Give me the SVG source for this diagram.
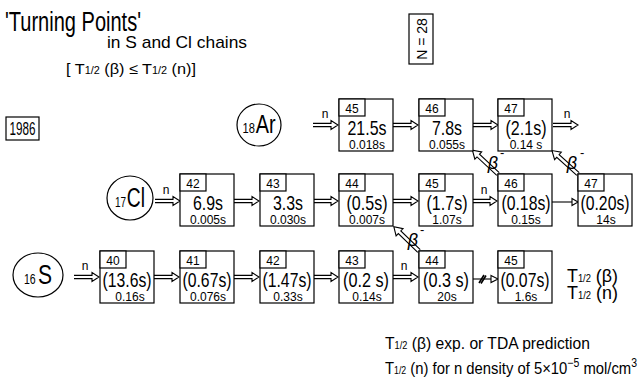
<svg xmlns="http://www.w3.org/2000/svg" width="641" height="383" viewBox="0 0 641 383">
<style>
text{font-family:"Liberation Sans",Arial,sans-serif;fill:#000}
.box{fill:#fff;stroke:#000;stroke-width:1.2}
.lb{font-size:12px;text-anchor:middle}
.v{font-size:21px;text-anchor:middle}
.s{font-size:12px;text-anchor:middle}
.ha{fill:#fff;stroke:#000;stroke-width:1.1}
.ln{fill:none;stroke:#000;stroke-width:1.1}
.n{font-size:12px;text-anchor:middle}
.b{font-size:18px;font-style:italic;text-anchor:middle}
.el{fill:#fff;stroke:#000;stroke-width:1.2}
.sub{font-size:10px}
.c{text-anchor:middle}
</style>
<defs>
<path id="ha25" class="ha" d="M0,-1.6H18V-4.5L25,0L18,4.5V1.6H0"/>
<path id="hb" class="ha" d="M0,-1.8H27V-5L35,0L27,5V1.8H0"/>
</defs>
<g id="title">
<text x="5" y="31" font-size="27" textLength="136" lengthAdjust="spacingAndGlyphs">'Turning  Points'</text>
<text x="107" y="48" font-size="17" textLength="140" lengthAdjust="spacingAndGlyphs">in S and Cl chains</text>
<text x="66" y="74" font-size="15" textLength="130" lengthAdjust="spacingAndGlyphs">[ T<tspan class="sub">1/2</tspan> (β)  ≤  T<tspan class="sub">1/2</tspan> (n)]</text>
</g>
<g id="year"><rect class="box" x="6" y="117" width="33" height="23"/><text class="c" x="22.5" y="135" font-size="18" textLength="26" lengthAdjust="spacingAndGlyphs">1986</text></g>
<g id="n28"><rect class="box" x="409" y="14" width="24" height="50"/><text transform="translate(426.5,39) rotate(-90)" font-size="14" text-anchor="middle">N = 28</text></g>
<g id="Ar"><ellipse class="el" cx="259" cy="125" rx="22" ry="21"/><text class="c" x="259" y="133" textLength="33" lengthAdjust="spacingAndGlyphs"><tspan font-size="14">18</tspan><tspan font-size="25" dx="1">Ar</tspan></text></g>
<g id="Cl"><ellipse class="el" cx="130" cy="198" rx="23" ry="22"/><text class="c" x="130" y="207" textLength="30" lengthAdjust="spacingAndGlyphs"><tspan font-size="14">17</tspan><tspan font-size="27" dx="1">Cl</tspan></text></g>
<g id="S"><ellipse class="el" cx="38" cy="275" rx="25" ry="22"/><text class="c" x="38" y="284" textLength="28" lengthAdjust="spacingAndGlyphs"><tspan font-size="14">16</tspan><tspan font-size="28" dx="3">S</tspan></text></g>
<g id="connectors">
<use href="#ha25" x="313" y="125"/><use href="#ha25" x="393" y="125"/><use href="#ha25" x="473" y="125"/><use href="#ha25" x="553" y="125"/>
<use href="#ha25" x="155" y="201"/><use href="#ha25" x="234" y="201"/><use href="#ha25" x="313" y="201"/><use href="#ha25" x="393" y="201"/><use href="#ha25" x="472" y="201"/>
<path class="ln" d="M552,202H572"/><path class="ha" d="M572,198.5L578,202L572,205.5Z"/>
<use href="#ha25" x="74" y="277"/><use href="#ha25" x="154" y="277"/><use href="#ha25" x="234" y="277"/><use href="#ha25" x="313" y="277"/><use href="#ha25" x="393" y="277"/>
<path class="ln" d="M473,279H491"/><path d="M479,283L484,275M481,283.5L486,275.5" stroke="#000" stroke-width="1.6"/><path class="ha" d="M491,275.5L498,279L491,282.5Z"/>
<use href="#hb" transform="translate(419,251) rotate(-136)"/>
<use href="#hb" transform="translate(498,174) rotate(-137)"/>
<use href="#hb" transform="translate(578,174) rotate(-138)"/>
<text class="n" x="325" y="118">n</text><text class="n" x="567" y="118">n</text>
<text class="n" x="166" y="194">n</text><text class="n" x="484" y="194">n</text>
<text class="n" x="85" y="270">n</text><text class="n" x="404" y="270">n</text>
<text class="b" x="413" y="246">β</text><text x="420" y="234" font-size="13">-</text>
<text class="b" x="493" y="169">β</text><text x="500" y="157" font-size="13">-</text>
<text class="b" x="572" y="169">β</text><text x="580" y="157" font-size="13">-</text>
</g>
<g id="Ar45"><rect class="box" x="339" y="99" width="54" height="52"/><rect class="box" x="339" y="99" width="26" height="17"/><text class="lb" x="352" y="112.5">45</text><text class="v" x="367" y="135" textLength="39" lengthAdjust="spacingAndGlyphs">21.5s</text><text class="s" x="367" y="148.5">0.018s</text></g>
<g id="Ar46"><rect class="box" x="419" y="99" width="54" height="52"/><rect class="box" x="419" y="99" width="26" height="17"/><text class="lb" x="432" y="112.5">46</text><text class="v" x="447" y="135" textLength="30" lengthAdjust="spacingAndGlyphs">7.8s</text><text class="s" x="447" y="148.5">0.055s</text></g>
<g id="Ar47"><rect class="box" x="498" y="99" width="54" height="52"/><rect class="box" x="498" y="99" width="26" height="17"/><text class="lb" x="511" y="112.5">47</text><text class="v" x="526" y="135" textLength="41" lengthAdjust="spacingAndGlyphs">(2.1s)</text><text class="s" x="526" y="148.5">0.14 s</text></g>
<g id="Cl42"><rect class="box" x="180" y="174" width="54" height="52"/><rect class="box" x="180" y="174" width="26" height="17"/><text class="lb" x="193" y="187.5">42</text><text class="v" x="208" y="210" textLength="30" lengthAdjust="spacingAndGlyphs">6.9s</text><text class="s" x="208" y="223.5">0.005s</text></g>
<g id="Cl43"><rect class="box" x="260" y="174" width="54" height="52"/><rect class="box" x="260" y="174" width="26" height="17"/><text class="lb" x="273" y="187.5">43</text><text class="v" x="288" y="210" textLength="30" lengthAdjust="spacingAndGlyphs">3.3s</text><text class="s" x="288" y="223.5">0.030s</text></g>
<g id="Cl44"><rect class="box" x="339" y="174" width="54" height="52"/><rect class="box" x="339" y="174" width="26" height="17"/><text class="lb" x="352" y="187.5">44</text><text class="v" x="367" y="210" textLength="41" lengthAdjust="spacingAndGlyphs">(0.5s)</text><text class="s" x="367" y="223.5">0.007s</text></g>
<g id="Cl45"><rect class="box" x="419" y="174" width="54" height="52"/><rect class="box" x="419" y="174" width="26" height="17"/><text class="lb" x="432" y="187.5">45</text><text class="v" x="447" y="210" textLength="41" lengthAdjust="spacingAndGlyphs">(1.7s)</text><text class="s" x="447" y="223.5">1.07s</text></g>
<g id="Cl46"><rect class="box" x="498" y="174" width="54" height="52"/><rect class="box" x="498" y="174" width="26" height="17"/><text class="lb" x="511" y="187.5">46</text><text class="v" x="526" y="210" textLength="49" lengthAdjust="spacingAndGlyphs">(0.18s)</text><text class="s" x="526" y="223.5">0.15s</text></g>
<g id="Cl47"><rect class="box" x="578" y="174" width="54" height="52"/><rect class="box" x="578" y="174" width="26" height="17"/><text class="lb" x="591" y="187.5">47</text><text class="v" x="605" y="210" textLength="49" lengthAdjust="spacingAndGlyphs">(0.20s)</text><text class="s" x="606" y="223.5">14s</text></g>
<g id="S40"><rect class="box" x="100" y="251" width="54" height="52"/><rect class="box" x="100" y="251" width="26" height="17"/><text class="lb" x="113" y="264.5">40</text><text class="v" x="127" y="287" textLength="49" lengthAdjust="spacingAndGlyphs">(13.6s)</text><text class="s" x="130" y="300.5">0.16s</text></g>
<g id="S41"><rect class="box" x="180" y="251" width="54" height="52"/><rect class="box" x="180" y="251" width="26" height="17"/><text class="lb" x="193" y="264.5">41</text><text class="v" x="207" y="287" textLength="49" lengthAdjust="spacingAndGlyphs">(0.67s)</text><text class="s" x="208" y="300.5">0.076s</text></g>
<g id="S42"><rect class="box" x="260" y="251" width="54" height="52"/><rect class="box" x="260" y="251" width="26" height="17"/><text class="lb" x="273" y="264.5">42</text><text class="v" x="287" y="287" textLength="49" lengthAdjust="spacingAndGlyphs">(1.47s)</text><text class="s" x="288" y="300.5">0.33s</text></g>
<g id="S43"><rect class="box" x="339" y="251" width="54" height="52"/><rect class="box" x="339" y="251" width="26" height="17"/><text class="lb" x="352" y="264.5">43</text><text class="v" x="366" y="287" textLength="46" lengthAdjust="spacingAndGlyphs">(0.2 s)</text><text class="s" x="367" y="300.5">0.14s</text></g>
<g id="S44"><rect class="box" x="419" y="251" width="54" height="52"/><rect class="box" x="419" y="251" width="26" height="17"/><text class="lb" x="432" y="264.5">44</text><text class="v" x="446" y="287" textLength="46" lengthAdjust="spacingAndGlyphs">(0.3 s)</text><text class="s" x="447" y="300.5">20s</text></g>
<g id="S45"><rect class="box" x="498" y="251" width="54" height="52"/><rect class="box" x="498" y="251" width="26" height="17"/><text class="lb" x="511" y="264.5">45</text><text class="v" x="525" y="287" textLength="49" lengthAdjust="spacingAndGlyphs">(0.07s)</text><text class="s" x="526" y="300.5">1.6s</text></g>
<g id="legend">
<text x="567" y="282" font-size="19" textLength="51" lengthAdjust="spacingAndGlyphs">T<tspan class="sub">1/2</tspan> (β)</text>
<text x="567" y="299" font-size="19" textLength="51" lengthAdjust="spacingAndGlyphs">T<tspan class="sub">1/2</tspan> (n)</text>
<text x="385" y="349" font-size="17" textLength="205" lengthAdjust="spacingAndGlyphs">T<tspan class="sub">1/2</tspan> (β) exp. or   TDA   prediction</text>
<text x="385" y="374" font-size="17" textLength="252" lengthAdjust="spacingAndGlyphs">T<tspan class="sub">1/2</tspan> (n)  for  n  density of 5×10<tspan font-size="12" dy="-7">−5</tspan><tspan dy="7"> mol/cm</tspan><tspan font-size="12" dy="-7">3</tspan></text>
</g>
</svg>
